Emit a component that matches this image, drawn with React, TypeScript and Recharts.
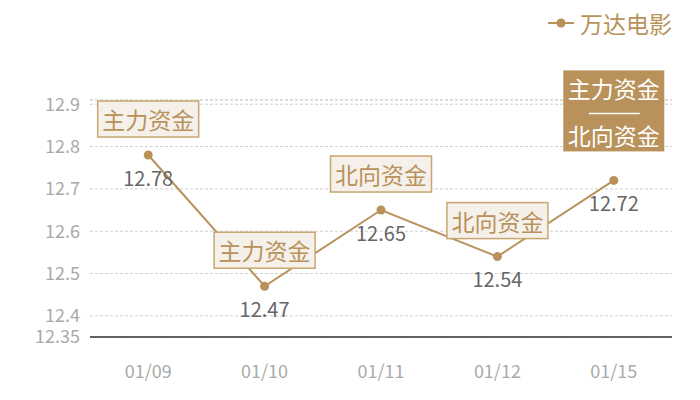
import React from "react";
import { LineChart, Line, XAxis, YAxis, CartesianGrid, ReferenceLine } from "recharts";

const dates = ["01/09", "01/10", "01/11", "01/12", "01/15"];
const prices = [12.78, 12.47, 12.65, 12.54, 12.72];
const notes = [["主力资金"], ["主力资金"], ["北向资金"], ["北向资金"], ["主力资金", "北向资金"]];
const yTicks = [12.35, 12.4, 12.5, 12.6, 12.7, 12.8, 12.9];
const seriesName = "万达电影";

const GOLD = "#b8925a";
const FONT = "'Noto Sans CJK SC', 'Noto Sans', sans-serif";

const data = dates.map((d, i) => ({ date: d, price: prices[i] }));

const PointLabel = (props: any) => {
    const { x, y, value, index } = props;
    const lines = notes[index] || [];
    const w = 101;
    let box = null;
    if (lines.length === 1) {
        const h = 36;
        const top = y - 18 - h;
        box = (
            <g>
                <rect x={x - w / 2} y={top} width={w} height={h} fill="#f5f0ea" stroke="#c9a66f" strokeWidth={1.5} />
                <text x={x} y={top + h / 2} textAnchor="middle" dominantBaseline="central" fill={GOLD} fontSize={23} fontFamily={FONT}>
                    {lines[0]}
                </text>
            </g>
        );
    } else if (lines.length > 1) {
        // stacked dark box
        const h = 81;
        const top = y - 29 - h;
        box = (
            <g>
                <rect x={x - w / 2} y={top} width={w} height={h} fill={GOLD} />
                <text x={x} y={top + 18} textAnchor="middle" dominantBaseline="central" fill="#fff" fontSize={23} fontFamily={FONT}>
                    {lines[0]}
                </text>
                <line x1={x - 25} x2={x + 26} y1={top + 43} y2={top + 43} stroke="#fff" strokeWidth={1.5} />
                <text x={x} y={top + 65} textAnchor="middle" dominantBaseline="central" fill="#fff" fontSize={23} fontFamily={FONT}>
                    {lines[1]}
                </text>
            </g>
        );
    }
    return (
        <g>
            <text x={x} y={y + 22} textAnchor="middle" dominantBaseline="central" fill="#666" fontSize={20} fontFamily={FONT}>
                {value}
            </text>
            {box}
        </g>
    );
};

const App: React.FC = () => {
    return (
        <div style={{ position: "absolute", left: 0, top: 0, width: 700, height: 400, background: "#fff" }}>
            {/* legend drawn as html so it doesn't push the plot down */}
            <div style={{ position: "absolute", left: 547, top: 6, display: "flex", alignItems: "center", fontFamily: FONT, fontSize: 23, color: GOLD }}>
                <svg width={28} height={20} style={{ marginRight: 5 }}>
                    <line x1={1} x2={27} y1={10} y2={10} stroke={GOLD} strokeWidth={2} />
                    <circle cx={14} cy={10} r={4.5} fill={GOLD} />
                </svg>
                <span>{seriesName}</span>
            </div>
            <LineChart width={700} height={400} data={data} margin={{ top: 100, right: 28, left: 0, bottom: 0 }}>
                <CartesianGrid vertical={false} stroke="#d0d0d0" strokeDasharray="3 2" />
                <ReferenceLine y={12.91} stroke="#d0d0d0" strokeDasharray="3 2" />
                <XAxis
                    dataKey="date"
                    scale="band"
                    height={63}
                    tickLine={false}
                    tickSize={0}
                    tickMargin={28}
                    axisLine={{ stroke: "#333", strokeWidth: 1.5 }}
                    tick={{ fill: "#aaa", fontSize: 18, fontFamily: FONT }}
                />
                <YAxis
                    width={90}
                    domain={[12.35, 12.91]}
                    ticks={yTicks}
                    interval={0}
                    axisLine={false}
                    tickLine={false}
                    tickSize={0}
                    tickMargin={10}
                    tick={{ fill: "#aaa", fontSize: 18, fontFamily: FONT }}
                />
                <Line
                    type="linear"
                    dataKey="price"
                    name={seriesName}
                    stroke={GOLD}
                    strokeWidth={2}
                    dot={{ r: 4.5, fill: GOLD, stroke: GOLD, strokeWidth: 0 }}
                    label={<PointLabel />}
                    isAnimationActive={false}
                />
            </LineChart>
        </div>
    );
};

export default App;
